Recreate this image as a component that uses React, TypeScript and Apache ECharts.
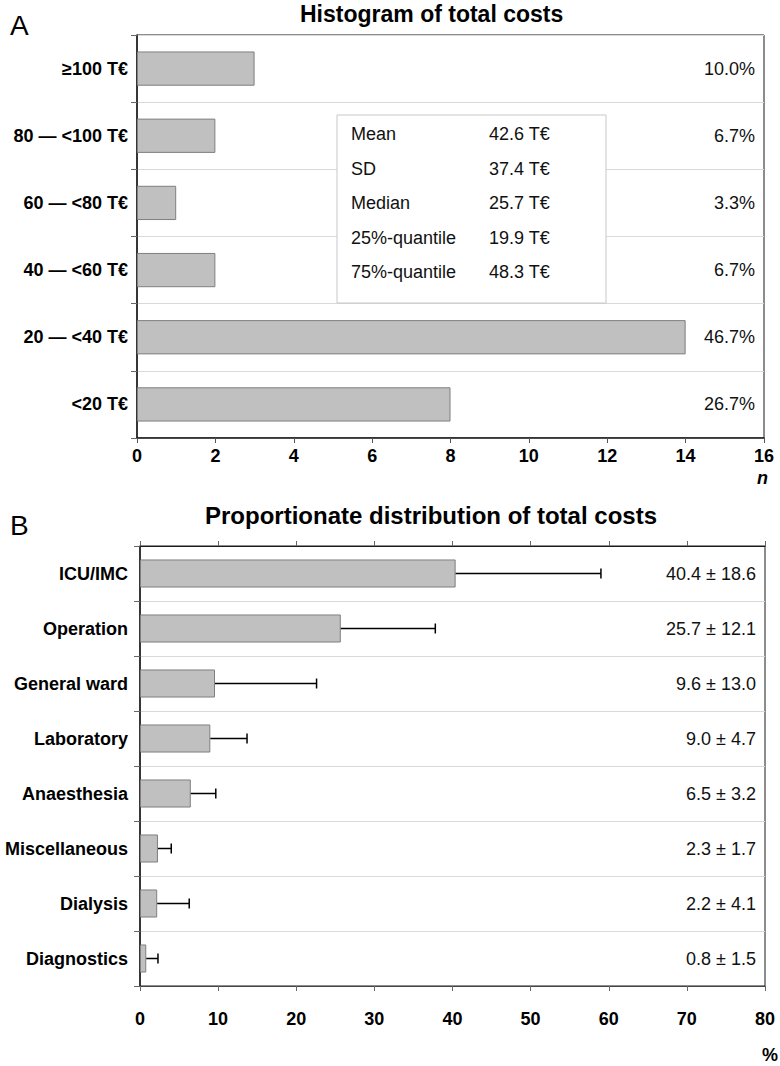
import React, { useEffect, useRef } from "react";
import * as echarts from "echarts";

// Panel A data (bottom to top)
const histCategories = ["<20 T€", "20 — <40 T€", "40 — <60 T€", "60 — <80 T€", "80 — <100 T€", "≥100 T€"];
const histCounts = [8, 14, 2, 1, 2, 3];
const histPercents = ["26.7%", "46.7%", "6.7%", "3.3%", "6.7%", "10.0%"];
const histTicks = [0, 16, 2]; // min, max, interval

const statNames = ["Mean", "SD", "Median", "25%-quantile", "75%-quantile"];
const statValues = ["42.6 T€", "37.4 T€", "25.7 T€", "19.9 T€", "48.3 T€"];

// Panel B data (top to bottom)
const costCategories = ["ICU/IMC", "Operation", "General ward", "Laboratory", "Anaesthesia", "Miscellaneous", "Dialysis", "Diagnostics"];
const costMeans = [40.4, 25.7, 9.6, 9.0, 6.5, 2.3, 2.2, 0.8];
const costSDs = [18.6, 12.1, 13.0, 4.7, 3.2, 1.7, 4.1, 1.5];
const costTicks = [0, 80, 10];

const FONT = "'Liberation Sans', Arial, sans-serif";
const BAR_FILL = "#c0c0c0";
const BAR_BORDER = "#7f7f7f";
const SPLIT = "#d9d9d9";
const DARK = "#1a1a1a";

export default function App() {
  const ref = useRef<HTMLDivElement>(null);

  useEffect(() => {
    if (!ref.current) return;
    const chart = echarts.init(ref.current, null, { renderer: "svg" });

    const statGraphics: any[] = [];
    statNames.forEach((n, i) => {
      statGraphics.push({
        type: "text", z: 101, left: 351, top: 135 + i * 34.5 - 10,
        style: { text: n, font: `18px ${FONT}`, fill: "#111" },
      });
      statGraphics.push({
        type: "text", z: 101, left: 489, top: 135 + i * 34.5 - 10,
        style: { text: statValues[i], font: `18px ${FONT}`, fill: "#111" },
      });
    });

    const option: any = {
      animation: false,
      backgroundColor: "#fff",
      textStyle: { fontFamily: FONT },
      grid: [
        { left: 137, top: 35, width: 627, height: 403, show: true, borderColor: DARK, borderWidth: 1, backgroundColor: "transparent" },
        { left: 140, top: 546, width: 625, height: 440, show: true, borderColor: DARK, borderWidth: 1, backgroundColor: "transparent" },
      ],
      xAxis: [
        {
          gridIndex: 0, type: "value", min: histTicks[0], max: histTicks[1], interval: histTicks[2],
          axisLine: { show: true, lineStyle: { color: DARK, width: 1.5 } },
          axisTick: { show: true, inside: false, length: 5, lineStyle: { color: "#555" } },
          axisLabel: { fontSize: 18, fontWeight: "bold", color: "#000", margin: 9, fontFamily: FONT },
          splitLine: { show: false },
        },
        {
          gridIndex: 1, type: "value", position: "bottom", min: costTicks[0], max: costTicks[1], interval: costTicks[2],
          axisLine: { show: true, lineStyle: { color: "#444", width: 1 } },
          axisTick: { show: true, inside: false, length: 5, lineStyle: { color: "#666" } },
          axisLabel: { fontSize: 18, fontWeight: "bold", color: "#000", margin: 24, fontFamily: FONT },
          splitLine: { show: false },
        },
        {
          gridIndex: 1, type: "value", position: "top", min: costTicks[0], max: costTicks[1], interval: costTicks[2],
          axisLine: { show: true, lineStyle: { color: DARK, width: 1 } },
          axisTick: { show: true, inside: false, length: 5, lineStyle: { color: "#666" } },
          axisLabel: { show: false },
          splitLine: { show: false },
        },
      ],
      yAxis: [
        {
          gridIndex: 0, type: "category", data: histCategories,
          axisLine: { show: true, lineStyle: { color: DARK, width: 1.5 } },
          axisTick: { show: true, length: 6, lineStyle: { color: "#666" } },
          axisLabel: { fontSize: 18, fontWeight: "bold", color: "#000", margin: 9, fontFamily: FONT },
          splitLine: { show: true, lineStyle: { color: SPLIT, width: 1 } },
        },
        {
          gridIndex: 0, type: "category", data: histPercents, position: "right",
          axisLine: { show: false }, axisTick: { show: false },
          axisLabel: { inside: true, fontSize: 18, color: "#111", margin: 9, fontFamily: FONT },
          splitLine: { show: false },
        },
        {
          gridIndex: 1, type: "category", data: costCategories, inverse: true,
          axisLine: { show: true, lineStyle: { color: DARK, width: 1.5 } },
          axisTick: { show: true, length: 6, lineStyle: { color: "#666" } },
          axisLabel: { fontSize: 18, fontWeight: "bold", color: "#000", margin: 12, fontFamily: FONT },
          splitLine: { show: true, lineStyle: { color: SPLIT, width: 1 } },
        },
        {
          gridIndex: 1, type: "category", inverse: true, position: "right",
          data: costMeans.map((m, i) => `${m.toFixed(1)} ± ${costSDs[i].toFixed(1)}`),
          axisLine: { show: false }, axisTick: { show: false },
          axisLabel: { inside: true, fontSize: 18, color: "#111", margin: 9, fontFamily: FONT },
          splitLine: { show: false },
        },
      ],
      series: [
        {
          type: "bar", xAxisIndex: 0, yAxisIndex: 0, data: histCounts, barWidth: "51%",
          itemStyle: { color: BAR_FILL, borderColor: BAR_BORDER, borderWidth: 1 },
          z: 3,
        },
        {
          type: "bar", xAxisIndex: 1, yAxisIndex: 2, data: costMeans, barWidth: "51%",
          itemStyle: { color: BAR_FILL, borderColor: BAR_BORDER, borderWidth: 1 },
          z: 3,
        },
        {
          type: "custom", xAxisIndex: 1, yAxisIndex: 2, z: 4,
          encode: { x: 0, y: 1 },
          data: costMeans.map((m, i) => [m, i, costSDs[i]]),
          renderItem: (params: any, api: any) => {
            const m = api.value(0);
            const c = api.value(1);
            const sd = api.value(2);
            const p0 = api.coord([m, c]);
            const p1 = api.coord([m + sd, c]);
            const st = { stroke: "#000", lineWidth: 1.5 };
            return {
              type: "group",
              children: [
                { type: "line", shape: { x1: p0[0], y1: p0[1], x2: p1[0], y2: p1[1] }, style: st },
                { type: "line", shape: { x1: p1[0], y1: p1[1] - 5, x2: p1[0], y2: p1[1] + 5 }, style: st },
              ],
            };
          },
        },
      ],
      graphic: [
        { type: "text", left: 10, top: 11, style: { text: "A", font: `28px ${FONT}`, fill: "#000" } },
        { type: "text", left: 300, top: 2, style: { text: "Histogram of total costs", font: `bold 23px ${FONT}`, fill: "#000" } },
        { type: "text", left: 10, top: 511, style: { text: "B", font: `28px ${FONT}`, fill: "#000" } },
        { type: "text", left: 205, top: 503, style: { text: "Proportionate distribution of total costs", font: `bold 24px ${FONT}`, fill: "#000" } },
        { type: "text", left: 757, top: 469, style: { text: "n", font: `italic bold 18px ${FONT}`, fill: "#000" } },
        { type: "text", left: 762, top: 1046, style: { text: "%", font: `bold 18px ${FONT}`, fill: "#000" } },
        {
          type: "rect", z: 100, shape: { x: 337, y: 115, width: 269, height: 188 },
          style: { fill: "#fff", stroke: "#c8c8c8", lineWidth: 1 },
        },
        ...statGraphics,
      ],
    };

    chart.setOption(option);
    return () => chart.dispose();
  }, []);

  return (
    <div
      ref={ref}
      style={{ position: "fixed", left: 0, top: 0, width: 780, height: 1066, background: "#fff" }}
    />
  );
}
